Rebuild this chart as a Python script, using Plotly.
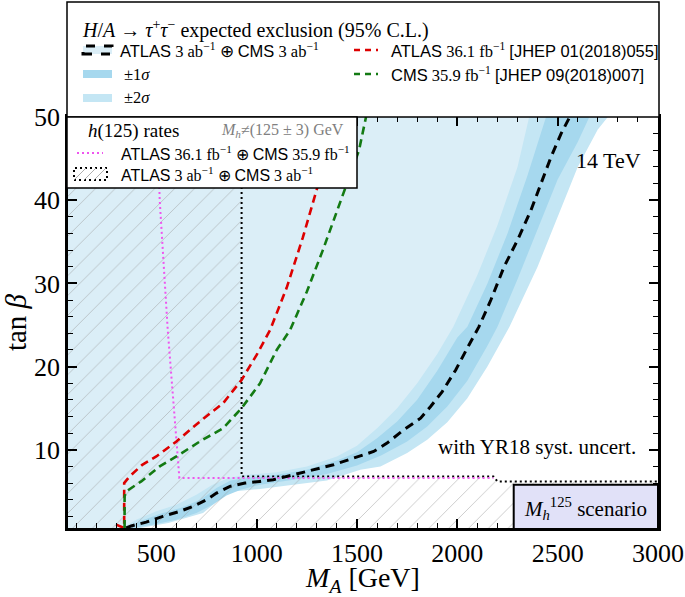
import plotly.graph_objects as go

# ---------------- data ----------------
# expected HL-LHC exclusion, ATLAS 3 ab-1 + CMS 3 ab-1 (black dashed)
ma_exp = [350, 375, 450, 533, 617, 683, 750, 800, 867, 942, 1017, 1083, 1183, 1283, 1383,
          1483, 1583, 1650, 1733, 1817, 1867, 1925, 1992, 2058, 2108, 2167, 2233, 2300,
          2367, 2417, 2467, 2517, 2560]
tb_exp = [0.6, 0.85, 1.3, 2.0, 2.6, 3.2, 4.0, 4.8, 5.6, 6.0, 6.2, 6.4, 7.0, 7.6, 8.2,
          9.0, 9.8, 10.8, 12.4, 13.8, 15.2, 17.0, 19.6, 22.6, 24.8, 28, 32, 35.2,
          38.8, 42, 45.2, 48, 50]

# band edges (upper/left side and lower/right side)
ma_up2 = [330, 400, 500, 600, 700, 780, 860, 950, 1100, 1250, 1400, 1500, 1600, 1700,
          1800, 1900, 1980, 2100, 2200, 2300, 2358]
tb_up2 = [0.6, 1.6, 2.6, 3.4, 4.6, 5.8, 6.6, 7.0, 7.3, 8.0, 9.2, 10.5, 12.6, 15.0,
          18.0, 21.5, 24.8, 31, 37, 44, 50]
ma_up1 = [345, 420, 520, 620, 720, 800, 870, 950, 1100, 1250, 1400, 1500, 1600, 1700,
          1800, 1900, 2000, 2050, 2150, 2250, 2350, 2442]
tb_up1 = [0.6, 1.4, 2.3, 3.0, 4.0, 5.4, 6.3, 6.6, 7.0, 7.6, 8.7, 9.7, 11.4, 13.4,
          16.0, 19.5, 23.5, 24.8, 30, 36, 43, 50]
ma_lo1 = [380, 480, 600, 700, 780, 850, 920, 1017, 1183, 1350, 1500, 1620, 1750, 1850,
          1950, 2050, 2150, 2200, 2300, 2400, 2500, 2600, 2658]
tb_lo1 = [0.6, 1.0, 1.6, 2.4, 3.4, 4.5, 5.2, 5.8, 6.4, 7.1, 8.1, 9.3, 11.0, 12.8,
          15.2, 18.3, 22.5, 24.8, 30.5, 36.5, 42.5, 47, 50]
ma_lo2 = [420, 560, 733, 833, 883, 1017, 1183, 1350, 1517, 1617, 1750, 1850, 1950, 2050,
          2150, 2260, 2400, 2500, 2600, 2700, 2750]
tb_lo2 = [0.6, 1.2, 2.4, 4.4, 5.0, 5.3, 5.8, 6.3, 7.6, 8.0, 9.6, 11.2, 13.3, 16.2,
          20.0, 24.8, 32, 38, 44, 48.5, 50]

# ATLAS 36.1 fb-1 (red dashed)
ma_atlas36 = [300, 335, 340, 340, 367, 430, 500, 600, 717, 833, 925, 1000, 1067, 1150,
              1230, 1320, 1400]
tb_atlas36 = [1.0, 0.6, 0.6, 6.0, 6.8, 8.2, 9.2, 11.0, 13.4, 15.6, 18.4, 21.4, 24.4,
              29.5, 35.5, 43, 50]

# CMS 35.9 fb-1 (green dashed)
ma_cms36 = [342, 342, 350, 425, 517, 600, 717, 833, 925, 1017, 1100, 1167, 1250, 1330,
            1420, 1510, 1545]
tb_cms36 = [0.6, 4.4, 5.0, 6.2, 8.0, 9.2, 11.0, 12.6, 15.0, 18.0, 22.0, 24.4, 29, 34,
            40, 46, 50]

# h(125) rates, current data (magenta dotted)
ma_h125_now = [505, 517, 557, 601, 615, 2180]
tb_h125_now = [50, 40, 24.4, 10.6, 6.6, 6.6]

# h(125) rates, 3 ab-1 (black dotted, hatched below/left)
ma_h125_hl = [925, 925, 2180, 2200, 3000]
tb_h125_hl = [50, 6.8, 6.8, 6.2, 6.2]

X_RANGE = [60, 3000]
Y_RANGE = [0.6, 50]

C_BASE = "#dbeef7"
C_2SIG = "#c4e6f4"
C_1SIG = "#a6d8ee"
SERIF = "Liberation Serif"
SANS = "Liberation Sans"

# figure geometry in pixels
W, H = 685, 597
ML, MR, MT, MB = 68, 27, 117, 69


def xp(px):
    return (px - ML) / (W - ML - MR)


def yp(py):
    return (H - MB - py) / (H - MT - MB)


def left_region(ma, tb):
    # polygon: everything to the left / above the given curve
    xs = [0, ma[0]] + list(ma) + [0, 0]
    ys = [0, 0] + list(tb) + [60, 0]
    return xs, ys


fig = go.Figure()

for ma, tb, col in [(ma_lo2, tb_lo2, C_2SIG), (ma_lo1, tb_lo1, C_1SIG),
                    (ma_up1, tb_up1, C_2SIG), (ma_up2, tb_up2, C_BASE)]:
    xs, ys = left_region(ma, tb)
    fig.add_trace(go.Scatter(x=xs, y=ys, fill="toself", fillcolor=col, mode="lines",
                             line=dict(width=0), hoverinfo="skip", showlegend=False))

# hatched h(125) region
hx = [0, 0, ma_h125_hl[0]] + ma_h125_hl[1:] + [3100, 3100]
hy = [0, 60, 60] + tb_h125_hl[1:] + [tb_h125_hl[-1], 0]
fig.add_trace(go.Scatter(x=hx, y=hy, fill="toself", fillcolor="rgba(0,0,0,0)",
                         fillpattern=dict(shape="/", fgcolor="#9a9a9a", bgcolor="rgba(0,0,0,0)",
                                          size=14, solidity=0.07),
                         mode="lines", line=dict(width=0), hoverinfo="skip", showlegend=False))

fig.add_trace(go.Scatter(x=ma_h125_hl, y=tb_h125_hl, mode="lines",
                         line=dict(color="black", width=2, dash="2px,3px"), showlegend=False))
fig.add_trace(go.Scatter(x=ma_h125_now, y=tb_h125_now, mode="lines",
                         line=dict(color="#ee55ee", width=2, dash="2px,3px"), showlegend=False))
fig.add_trace(go.Scatter(x=ma_atlas36, y=tb_atlas36, mode="lines",
                         line=dict(color="#dd0000", width=2.6, dash="8px,5px"), showlegend=False))
fig.add_trace(go.Scatter(x=ma_cms36, y=tb_cms36, mode="lines",
                         line=dict(color="#137a13", width=2.6, dash="8px,5px"), showlegend=False))
fig.add_trace(go.Scatter(x=ma_exp, y=tb_exp, mode="lines",
                         line=dict(color="black", width=3, dash="9px,6px"), showlegend=False))

shapes = []
ann = []

# M_h^125 scenario box
shapes.append(dict(type="rect", xref="x", yref="y", x0=2281, x1=3000, y0=0, y1=5.8,
                   fillcolor="#e1e1f8", line=dict(color="black", width=2), layer="above"))
ann.append(dict(x=2640, y=3.0, xref="x", yref="y", showarrow=False,
                text="<i>M</i><sub><i>h</i></sub><sup>125</sup> scenario",
                font=dict(family=SERIF, size=21, color="black")))
ann.append(dict(x=xp(638), y=yp(461), xref="paper", yref="paper", xanchor="right",
                showarrow=False, text="with YR18 syst. uncert.",
                font=dict(family=SERIF, size=21, color="black")))
ann.append(dict(x=xp(643), y=yp(146), xref="paper", yref="paper", xanchor="right",
                showarrow=False, text="14 TeV", font=dict(family=SERIF, size=22, color="black")))


def sans(t):
    return f"<span style='font-family:{SANS}'>{t}</span>"


def rect_px(x0, x1, y0, y1, **kw):
    d = dict(type="rect", xref="paper", yref="paper", x0=xp(x0), x1=xp(x1),
             y0=yp(y1), y1=yp(y0), layer="above")
    d.update(kw)
    return d


def line_px(x0, x1, y0, y1, **kw):
    d = dict(type="line", xref="paper", yref="paper", x0=xp(x0), x1=xp(x1),
             y0=yp(y0), y1=yp(y1), layer="above")
    d.update(kw)
    return d


def text_px(x, y, t, size=16, color="black", anchor="left"):
    ann.append(dict(x=xp(x), y=yp(y), xref="paper", yref="paper", xanchor=anchor,
                    yanchor="middle", showarrow=False, text=t,
                    font=dict(family=SERIF, size=size, color=color)))


# top legend
shapes.append(rect_px(67, 659, 2, 117, fillcolor="white", line=dict(color="black", width=1.5)))
text_px(80, 29, "<i>H</i>/<i>A</i> → <i>τ</i><sup>+</sup><i>τ</i><sup>−</sup> expected exclusion (95% C.L.)", 20)
shapes.append(rect_px(83, 112, 46, 54, fillcolor=C_BASE, line=dict(color="black", width=3, dash="dash")))
text_px(118, 50, sans("ATLAS") + " 3 ab<sup>−1</sup> ⊕ " + sans("CMS") + " 3 ab<sup>−1</sup>", 16.5)
shapes.append(rect_px(83, 112, 70, 78, fillcolor=C_1SIG, line=dict(width=0)))
text_px(122, 74, "±1<i>σ</i>", 16.5)
shapes.append(rect_px(83, 112, 94, 102, fillcolor=C_2SIG, line=dict(width=0)))
text_px(122, 98, "±2<i>σ</i>", 16.5)
shapes.append(line_px(354, 378, 50, 50, line=dict(color="#dd0000", width=2.6, dash="6px,5px")))
text_px(389, 50, sans("ATLAS") + " 36.1 fb<sup>−1</sup> " + sans("[JHEP 01(2018)055]"), 16.5)
shapes.append(line_px(354, 378, 74, 74, line=dict(color="#137a13", width=2.6, dash="6px,5px")))
text_px(389, 74, sans("CMS") + " 35.9 fb<sup>−1</sup> " + sans("[JHEP 09(2018)007]"), 16.5)

# h(125) legend
shapes.append(rect_px(67, 357, 117, 188, fillcolor="white", line=dict(color="black", width=1.5)))
text_px(86, 131, "<i>h</i>(125) rates", 19)
text_px(346, 131, "<i>M<sub>h</sub></i>≠(125 ± 3) GeV", 16, color="#808080", anchor="right")
shapes.append(line_px(77, 103, 153, 153, line=dict(color="#ee55ee", width=2, dash="2px,3px")))
text_px(119, 153, sans("ATLAS") + " 36.1 fb<sup>−1</sup> ⊕ " + sans("CMS") + " 35.9 fb<sup>−1</sup>", 16)
shapes.append(rect_px(74, 107, 168, 180, fillcolor="white", line=dict(color="black", width=2, dash="2px,3px")))
for k in range(3):
    shapes.append(line_px(74 + 10 * k, 86 + 10 * k, 180, 168, line=dict(color="#9a9a9a", width=0.8)))
text_px(119, 174, sans("ATLAS") + " 3 ab<sup>−1</sup> ⊕ " + sans("CMS") + " 3 ab<sup>−1</sup>", 16)

axis_common = dict(showline=True, linecolor="black", linewidth=2.5, mirror="allticks",
                   ticks="inside", ticklen=9, tickwidth=2, tickcolor="black",
                   showgrid=False, zeroline=False, automargin=False,
                   tickfont=dict(family=SERIF, size=26, color="black"))

fig.update_xaxes(range=X_RANGE, tickvals=[500, 1000, 1500, 2000, 2500, 3000],
                 minor=dict(ticks="inside", dtick=100, tick0=0, ticklen=5, tickwidth=1.3,
                            tickcolor="black"),
                 title=dict(text="<i>M<sub>A</sub></i> [GeV]", standoff=8,
                            font=dict(family=SERIF, size=28, color="black")),
                 **axis_common)
fig.update_yaxes(range=Y_RANGE, tickvals=[10, 20, 30, 40, 50],
                 minor=dict(ticks="inside", dtick=2, tick0=0, ticklen=5, tickwidth=1.3,
                            tickcolor="black"),
                 title=dict(text="tan <i>β</i>", standoff=4,
                            font=dict(family=SERIF, size=29, color="black")),
                 **axis_common)

fig.update_layout(width=W, height=H, margin=dict(l=ML, r=MR, t=MT, b=MB),
                  paper_bgcolor="white", plot_bgcolor="white",
                  shapes=shapes, annotations=ann, showlegend=False)

# drop the page's default body margin so the figure sits at the window's corner
fig.write_html("out.html", config={"displayModeBar": False},
               post_script="document.body.style.margin='0';document.body.style.overflow='hidden';")
